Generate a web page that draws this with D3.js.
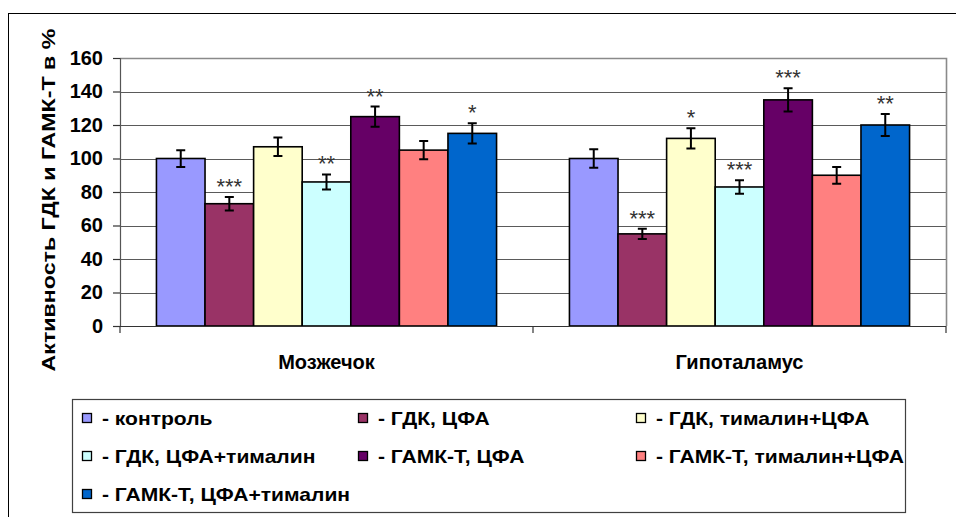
<!DOCTYPE html>
<html>
<head>
<meta charset="utf-8">
<script src="https://cdn.jsdelivr.net/npm/d3@7"></script>
<style>
  html, body { margin: 0; padding: 0; background: #fff; }
  svg { display: block; }
  text { font-family: Arial, "Liberation Sans", sans-serif; }
</style>
</head>
<body>
<svg id="chart" width="956" height="517"></svg>
<script>
// Regions of the brain (x categories)
const categories = ["Мозжечок", "Гипоталамус"];

// Series (legend order)
const seriesNames = [
  "- контроль",
  "- ГДК, ЦФА",
  "- ГДК, тималин+ЦФА",
  "- ГДК, ЦФА+тималин",
  "- ГАМК-Т, ЦФА",
  "- ГАМК-Т, тималин+ЦФА",
  "- ГАМК-Т, ЦФА+тималин"
];
const seriesColors = ["#9999FF", "#993366", "#FFFFCC", "#CCFFFF", "#660066", "#FF8080", "#0066CC"];

// Activity, % of control: one array per series, [Мозжечок, Гипоталамус]
const control        = [100, 100];
const gdkCfa         = [73, 55];
const gdkTimCfa      = [107, 112];
const gdkCfaTim      = [86, 83];
const gabaCfa        = [125, 135];
const gabaTimCfa     = [105, 90];
const gabaCfaTim     = [115, 120];
const seriesValues = [control, gdkCfa, gdkTimCfa, gdkCfaTim, gabaCfa, gabaTimCfa, gabaCfaTim];

// Error (±) for each bar
const seriesErrors = [
  [5, 5.5],
  [4, 3],
  [5.5, 6],
  [4.5, 4],
  [6, 7],
  [5.5, 5],
  [6, 6.5]
];

// Significance marks above bars
const seriesStars = [
  ["", ""],
  ["***", "***"],
  ["", "*"],
  ["**", "***"],
  ["**", "***"],
  ["", ""],
  ["*", "**"]
];

const yTicks = [0, 20, 40, 60, 80, 100, 120, 140, 160];
const yTitle = "Активность ГДК и ГАМК-Т в %";

const svg = d3.select("#chart");

// outer chart frame
svg.append("rect")
  .attr("x", 8.5).attr("y", 13.5)
  .attr("width", 970).attr("height", 530)
  .attr("fill", "#fff").attr("stroke", "#000").attr("stroke-width", 1);

const plot = { left: 120, right: 946, top: 58, bottom: 326 };

const y = d3.scaleLinear().domain([0, 160]).range([plot.bottom, plot.top]);
const x0 = d3.scaleBand().domain(categories).range([plot.left, plot.right]).padding(0);
const x1 = d3.scaleBand().domain(d3.range(seriesNames.length))
  .range([0, x0.bandwidth()]).paddingInner(0).paddingOuter(0.75);

// gridlines
svg.append("g")
  .selectAll("line")
  .data(yTicks.filter(t => t > 0))
  .join("line")
  .attr("x1", plot.left).attr("x2", plot.right)
  .attr("y1", d => Math.round(y(d)) + 0.5).attr("y2", d => Math.round(y(d)) + 0.5)
  .attr("stroke", "#5a5a5a").attr("stroke-width", 1.2);

// plot area border (right, top)
svg.append("path")
  .attr("d", `M${plot.left},${plot.top + 0.5}H${plot.right + 0.5}V${plot.bottom}`)
  .attr("fill", "none").attr("stroke", "#8a8a8a").attr("stroke-width", 1.6);

// y axis
const yAxis = d3.axisLeft(y).tickValues(yTicks).tickSize(7).tickPadding(10).tickFormat(d3.format("d"));
const yg = svg.append("g").attr("transform", `translate(${plot.left},0)`).call(yAxis);
yg.select(".domain").attr("stroke", "#555").attr("stroke-width", 1.2);
yg.selectAll(".tick line").attr("stroke", "#333").attr("stroke-width", 1.2);
yg.selectAll(".tick text")
  .attr("font-size", 20).attr("font-weight", "bold").attr("fill", "#000")
  .attr("font-family", "Arial, 'Liberation Sans', sans-serif");

const barData = [];
seriesValues.forEach((vals, si) => {
  vals.forEach((v, ci) => {
    barData.push({ si, ci, v, e: seriesErrors[si][ci], star: seriesStars[si][ci] });
  });
});

// bars
svg.append("g").selectAll("rect")
  .data(barData)
  .join("rect")
  .attr("x", d => x0(categories[d.ci]) + x1(d.si))
  .attr("y", d => y(d.v))
  .attr("width", x1.bandwidth())
  .attr("height", d => y(0) - y(d.v))
  .attr("fill", d => seriesColors[d.si])
  .attr("stroke", "#000").attr("stroke-width", 1.6);

// x axis (category axis with boundary ticks)
const xg = svg.append("g");
xg.append("line")
  .attr("x1", plot.left).attr("x2", plot.right)
  .attr("y1", plot.bottom + 0.5).attr("y2", plot.bottom + 0.5)
  .attr("stroke", "#333").attr("stroke-width", 1.2);
const boundaries = [plot.left, ...categories.map(c => x0(c) + x0.bandwidth())];
xg.selectAll("line.tk").data(boundaries).join("line").attr("class", "tk")
  .attr("x1", d => d).attr("x2", d => d)
  .attr("y1", plot.bottom).attr("y2", plot.bottom + 7)
  .attr("stroke", "#333").attr("stroke-width", 1.2);
xg.selectAll("text").data(categories).join("text")
  .attr("x", d => x0(d) + x0.bandwidth() / 2)
  .attr("y", 369)
  .attr("text-anchor", "middle")
  .attr("font-size", 20).attr("font-weight", "bold")
  .text(d => d);

// error bars
const cx = d => x0(categories[d.ci]) + x1(d.si) + x1.bandwidth() / 2;
const eb = svg.append("g").attr("stroke", "#000").attr("stroke-width", 2).attr("fill", "none");
eb.selectAll("path")
  .data(barData)
  .join("path")
  .attr("d", d => {
    const xc = cx(d), t = y(d.v + d.e), b = y(d.v - d.e), h = 4.5;
    return `M${xc},${t}V${b}M${xc - h},${t}H${xc + h}M${xc - h},${b}H${xc + h}`;
  });

// significance marks
svg.append("g").selectAll("text")
  .data(barData.filter(d => d.star))
  .join("text")
  .attr("x", d => cx(d))
  .attr("y", d => y(d.v + d.e) - 3)
  .attr("text-anchor", "middle")
  .attr("font-size", 22)
  .attr("fill", "#333")
  .text(d => d.star);

// y axis title
svg.append("text")
  .attr("transform", `translate(55,${(plot.top + plot.bottom) / 2 + 8}) rotate(-90) scale(1.22,1)`)
  .attr("text-anchor", "middle")
  .attr("font-size", 19).attr("font-weight", "bold")
  .text(yTitle);

// legend
const legend = svg.append("g");
legend.append("rect")
  .attr("x", 72.5).attr("y", 399.5).attr("width", 833).attr("height", 113)
  .attr("fill", "#fff").attr("stroke", "#404040").attr("stroke-width", 1.2);
const colX = [82, 358, 636];
const rowY = [418, 456, 494];
const items = legend.selectAll("g.item")
  .data(seriesNames.map((name, i) => ({ name, i })))
  .join("g").attr("class", "item")
  .attr("transform", d => `translate(${colX[d.i % 3]},${rowY[Math.floor(d.i / 3)]})`);
items.append("rect")
  .attr("x", 0.5).attr("y", -4.5).attr("width", 9).attr("height", 9)
  .attr("fill", d => seriesColors[d.i]).attr("stroke", "#000").attr("stroke-width", 1.3);
items.append("text")
  .attr("transform", "translate(20,6.5) scale(1.17,1)")
  .attr("font-size", 18).attr("font-weight", "bold")
  .text(d => d.name);
</script>
</body>
</html>
